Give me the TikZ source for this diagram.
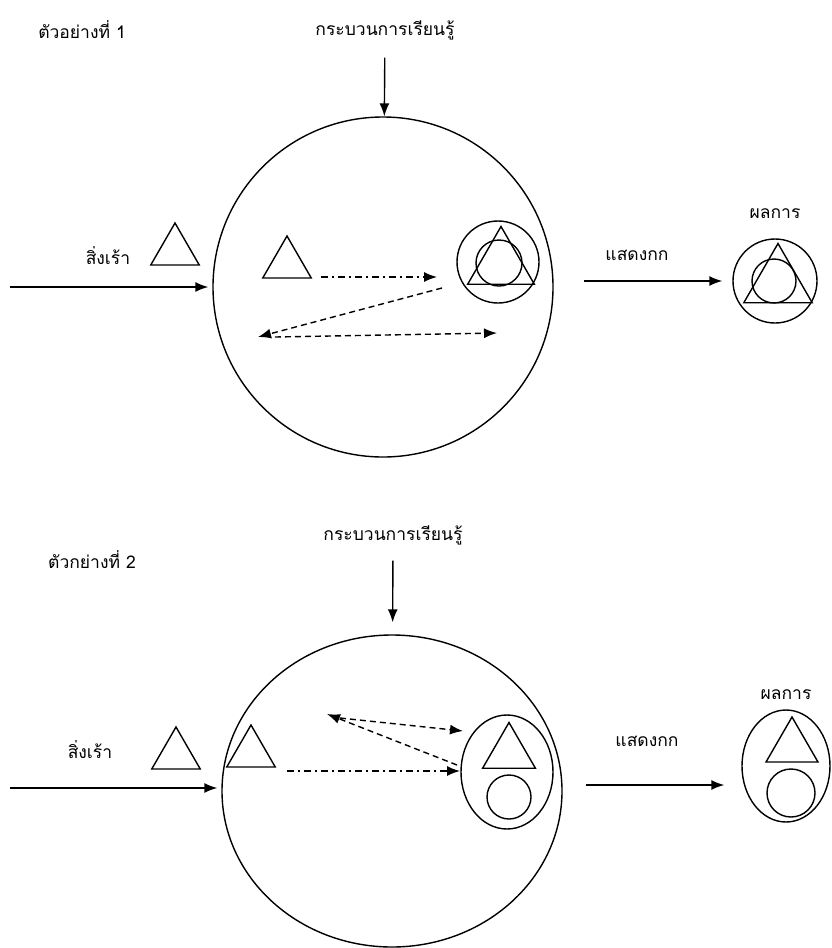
\documentclass[tikz,border=0pt]{standalone}
\usepackage{fontspec}
\newfontfamily\thaifont[Script=Thai]{Loma}
\usetikzlibrary{arrows.meta, positioning, shapes.geometric}

\tikzset{
	mind/.style={draw, circle, inner sep=0pt, minimum size=#1},
	blob/.style={draw, ellipse, inner sep=0pt},
	tri/.style={draw, regular polygon, regular polygon sides=3, inner sep=0pt, minimum size=#1},
	link/.style={->, shorten >=4pt},
	dashlink/.style={->, dash pattern=on 6pt off 4pt},
	dotlink/.style={->, dash pattern=on 7pt off 4pt on 2pt off 4pt}
}

\begin{document}
\begin{tikzpicture}[x=1pt, y=-1pt, line width=1.4pt, >={Latex[length=13pt,width=10pt]},
	every node/.append style={font=\thaifont\fontsize{17.5}{20}\selectfont}]

	\useasboundingbox (0,0) rectangle (831,948);

	\node (ex1) at (82,30) {ตัวอย่างที่ 1};
	\node (proc1) at (385,30) {กระบวนการเรียนรู้};
	\node[mind=340pt] (mind1) at (383,287) {};
	\node[tri=56pt] (stim1) at (175,251) {};
	\node (stimtxt1) at (108,256) {สิ่งเร้า};
	\node[tri=56pt] (tin1) at (287,264) {};
	\node[mind=82pt] (ring1) at (498,262) {};
	\node[mind=46pt] (core1) at (499,263) {};
	\node[tri=77pt] (ctri1) at (501,265) {};
	\node (show1) at (637,255) {แสดงกก};
	\node[mind=84pt] (res1) at (775,281) {};
	\node[mind=44pt] (rcore1) at (774,281) {};
	\node[tri=79pt] (rtri1) at (778,283) {};
	\node[above=16pt of res1] (restxt1) {ผลการ};

	\coordinate (src1) at (10,287);
	\coordinate (a1) at (321,277);
	\coordinate (b1) at (437,277);
	\coordinate (c1) at (442,288);
	\coordinate (d1) at (258,337);
	\coordinate (e1) at (275,337);
	\coordinate (f1) at (497,333);
	\coordinate (out1) at (584,281);

	\draw[->, shorten <=14pt] (proc1) -- (mind1);
	\draw[link] (src1) -- (mind1);
	\draw[dotlink] (a1) -- (b1);
	\draw[dashlink] (c1) -- (d1);
	\draw[dashlink] (e1) -- (f1);
	\draw[->, shorten >=10pt] (out1) -- (res1);

	\node (ex2) at (92,560) {ตัวกย่างที่ 2};
	\node (proc2) at (393,535) {กระบวนการเรียนรู้};
	\node[blob, minimum width=340pt, minimum height=312pt] (mind2) at (392,791) {};
	\node[tri=56pt] (stim2) at (176,755) {};
	\node (stimtxt2) at (90,750) {สิ่งเร้า};
	\node[tri=56pt] (tin2) at (251,753) {};
	\node[blob, minimum width=92pt, minimum height=114pt] (ring2) at (507,772) {};
	\node[tri=61pt] (ctri2) at (509,753) {};
	\node[mind=44pt] (core2) at (509,797) {};
	\node (show2) at (647,741) {แสดงกก};
	\node[blob, minimum width=88pt, minimum height=112pt] (res2) at (786,766) {};
	\node[tri=60pt] (rtri2) at (792,747) {};
	\node[mind=48pt] (rcore2) at (791,793) {};
	\node[above=6pt of res2] (restxt2) {ผลการ};

	\coordinate (src2) at (10,788);
	\coordinate (a2) at (287,771);
	\coordinate (b2) at (460,771);
	\coordinate (c2) at (457,765);
	\coordinate (d2) at (327,714);
	\coordinate (e2) at (340,718);
	\coordinate (f2) at (463,731);
	\coordinate (out2) at (586,785);

	\draw[->, shorten <=12pt, shorten >=12pt] (proc2) -- (mind2);
	\draw[link] (src2) -- (src2 -| mind2.west);
	\draw[dotlink] (a2) -- (b2);
	\draw[dashlink] (c2) -- (d2);
	\draw[dashlink] (e2) -- (f2);
	\draw[->, shorten >=17pt] (out2) -- (out2 -| res2.west);

\end{tikzpicture}
\end{document}
